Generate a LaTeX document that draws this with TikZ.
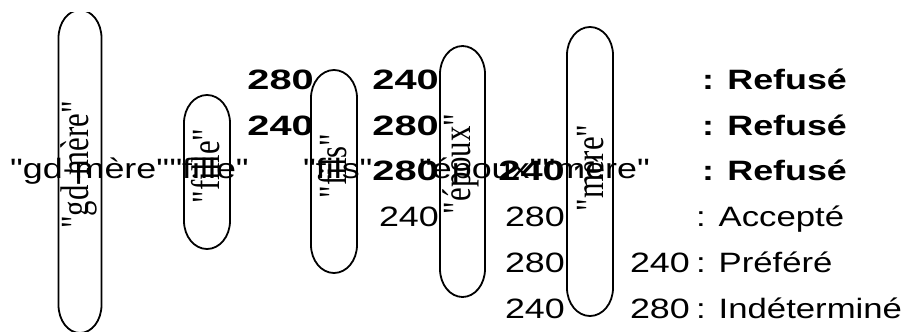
\documentclass[tikz,border=0pt]{standalone}
\usepackage{fontspec}
\newfontfamily\lblfont[FakeStretch=1.28]{Liberation Sans}
\newfontfamily\keyfont[FakeStretch=1.24]{Liberation Sans}
\newfontfamily\numfont[FakeStretch=1.42]{Liberation Sans}
\newfontfamily\capfont[FakeStretch=0.77]{Liberation Serif}
\usetikzlibrary{positioning}

\begin{document}
\begin{tikzpicture}[
  x=1pt, y=-1pt,
  capsule/.style={draw, line width=1.8pt, x radius=23pt, y radius=28pt},
  vlab/.style={rotate=90, inner sep=0pt, font=\capfont\fontsize{40}{40}\selectfont},
  hlab/.style={anchor=base west, inner sep=0pt, font=\lblfont\fontsize{28}{28}\selectfont},
  num/.style={anchor=base east, inner sep=0pt, font=\lblfont\fontsize{28}{28}\selectfont},
  bnum/.style={num, font=\numfont\bfseries\fontsize{28}{28}\selectfont},
  key/.style={anchor=base west, inner sep=0pt, font=\keyfont\fontsize{28}{28}\selectfont},
  bkey/.style={key, font=\lblfont\bfseries\fontsize{28}{28}\selectfont}
]
\useasboundingbox (0,0) rectangle (906,332);

% ---------- capsules ----------
\begin{scope}
  \clip (50,12) rectangle (112,332);
  \draw[capsule, x radius=21.5pt] (58.5,38) arc[start angle=180, end angle=0]
    -- (101.5,305) arc[start angle=0, end angle=-180] -- cycle;
\end{scope}
\draw[capsule] (184,123) arc[start angle=180, end angle=0]
  -- (230,221) arc[start angle=0, end angle=-180] -- cycle;
\draw[capsule] (311,98) arc[start angle=180, end angle=0]
  -- (357,245) arc[start angle=0, end angle=-180] -- cycle;
\draw[capsule, x radius=22.5pt] (440,74) arc[start angle=180, end angle=0]
  -- (485,269) arc[start angle=0, end angle=-180] -- cycle;
\draw[capsule] (567,55) arc[start angle=180, end angle=0]
  -- (613,288) arc[start angle=0, end angle=-180] -- cycle;

% rotated names
\node[vlab] (gm)    at (79,165)  {"gd-mère"};
\node[vlab] (fille) at (206,166) {"fille"};
\node[vlab] (fils)  at (333,166) {"fils"};
\node[vlab] (epoux) at (461,164) {"époux"};
\node[vlab] (mere)  at (590,168) {"mère"};

% ---------- names in a row ----------
\node[hlab] (gmh) at (10,178) {"gd-mère"};
\node[hlab, base right=0pt of gmh] (filleh) {"fille"};
\node[hlab] (filsh) at (303,178) {"fils"};
\node[hlab] (epouxh) at (419,178) {"époux"};
\node[hlab, base right=0pt of epouxh] (mereh) {"mère"};

% ---------- values ----------
\node[bnum] (a1) at (314,89)  {280};
\node[bnum] (b1) at (439,89)  {240};
\node[bnum] (a2) at (314,135) {240};
\node[bnum] (b2) at (439,135) {280};
\node[bnum] (b3) at (439,180) {280};
\node[bnum] (c3) at (565,180) {240};
\node[num]  (b4) at (439,226) {240};
\node[num]  (c4) at (565,226) {280};
\node[num]  (c5) at (565,272) {280};
\node[num]  (d5) at (690,272) {240};
\node[num]  (c6) at (565,318) {240};
\node[num]  (d6) at (690,318) {280};

% ---------- key ----------
\node[bkey] (k1) at (702,89)  {: Refusé};
\node[bkey] (k2) at (702,135) {: Refusé};
\node[bkey] (k3) at (702,180) {: Refusé};
\node[key]  (k4) at (696,226) {: Accepté};
\node[key]  (k5) at (696,272) {: Préféré};
\node[key]  (k6) at (696,318) {: Indéterminé};

\end{tikzpicture}
\end{document}
